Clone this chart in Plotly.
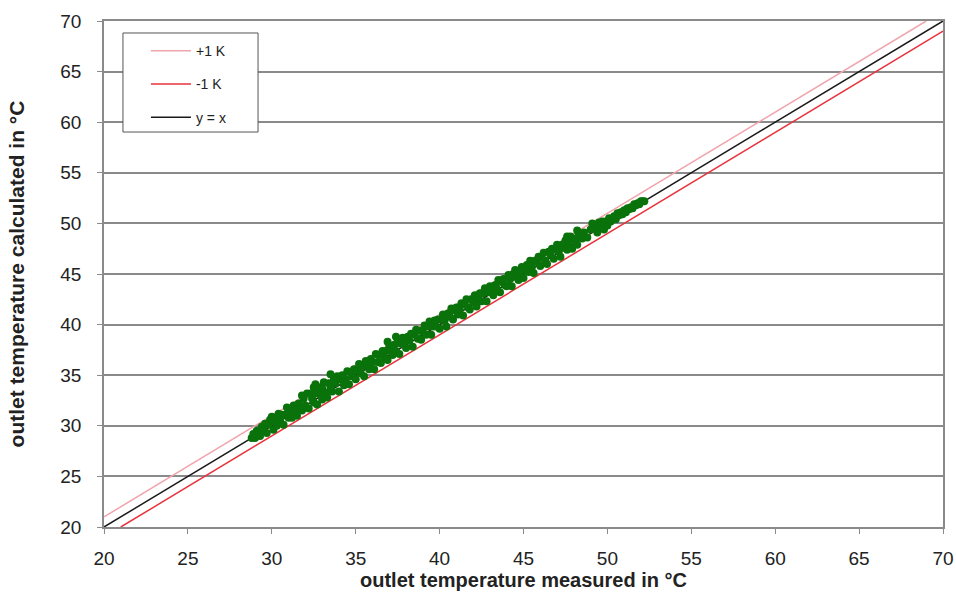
import plotly.graph_objects as go

# measured (x) and calculated (y) outlet temperatures
measured = [
    28.8, 28.9, 29.0, 29.1, 29.2, 29.3, 29.4, 29.5, 29.6, 29.7, 29.8, 29.9,
    30.0, 30.1, 30.1, 30.2, 30.3, 30.4, 30.5, 30.6, 30.7, 30.8, 30.9, 31.0,
    31.1, 31.2, 31.3, 31.4, 31.5, 31.6, 31.7, 31.8, 31.8, 31.9, 32.0, 32.1,
    32.2, 32.3, 32.4, 32.5, 32.5, 32.6, 32.7, 32.7, 32.8, 32.9, 33.0, 33.0,
    33.1, 33.2, 33.3, 33.4, 33.5, 33.5, 33.6, 33.7, 33.8, 33.9, 34.0, 34.1,
    34.2, 34.3, 34.4, 34.5, 34.6, 34.7, 34.8, 34.9, 35.0, 35.1, 35.2, 35.3,
    35.4, 35.5, 35.6, 35.7, 35.8, 35.9, 36.0, 36.1, 36.2, 36.3, 36.4, 36.5,
    36.6, 36.7, 36.8, 36.9, 36.9, 37.0, 37.1, 37.2, 37.3, 37.4, 37.4, 37.5,
    37.6, 37.7, 37.8, 37.9, 38.0, 38.1, 38.2, 38.3, 38.4, 38.5, 38.6, 38.7,
    38.8, 38.9, 39.0, 39.1, 39.2, 39.3, 39.4, 39.5, 39.6, 39.7, 39.8, 39.9,
    40.0, 40.1, 40.2, 40.3, 40.4, 40.5, 40.6, 40.7, 40.8, 40.9, 41.0, 41.1,
    41.2, 41.3, 41.4, 41.5, 41.6, 41.7, 41.8, 41.9, 42.0, 42.1, 42.2, 42.3,
    42.4, 42.5, 42.6, 42.7, 42.8, 42.9, 43.0, 43.1, 43.2, 43.3, 43.4, 43.5,
    43.6, 43.7, 43.8, 43.9, 44.0, 44.1, 44.2, 44.3, 44.4, 44.5, 44.6, 44.7,
    44.8, 44.9, 45.0, 45.1, 45.2, 45.3, 45.4, 45.5, 45.6, 45.7, 45.8, 45.9,
    46.0, 46.1, 46.2, 46.3, 46.4, 46.5, 46.6, 46.7, 46.8, 46.9, 47.0, 47.1,
    47.2, 47.3, 47.4, 47.5, 47.6, 47.6, 47.7, 47.8, 47.9, 48.0, 48.1, 48.2,
    48.2, 48.3, 48.5, 48.6, 48.8, 49.0, 49.1, 49.3, 49.4, 49.5, 49.6, 49.7,
    49.8, 49.9, 50.0, 50.1, 50.2, 50.4, 50.5, 50.6, 50.7, 50.8, 50.9, 51.0,
    51.1, 51.2, 51.3, 51.4, 51.5, 51.6, 51.7, 51.8, 51.9, 52.0, 52.1, 52.2,
]
calculated = [
    28.8, 29.2, 28.8, 29.5, 29.3, 29.0, 29.9, 29.5, 30.2, 29.3, 30.1, 30.6,
    30.9, 29.6, 30.7, 30.4, 30.0, 31.2, 30.6, 31.1, 30.1, 31.1, 31.8, 30.8,
    31.5, 30.8, 32.0, 31.5, 31.0, 32.2, 31.9, 33.0, 31.5, 32.7, 32.0, 33.2,
    31.7, 33.2, 32.7, 33.8, 32.3, 34.1, 33.2, 32.1, 33.8, 33.1, 33.7, 32.6,
    34.3, 33.3, 32.8, 34.2, 35.1, 33.8, 33.4, 34.6, 34.2, 34.9, 33.4, 34.6,
    35.0, 34.0, 34.6, 35.4, 34.1, 35.3, 34.9, 35.6, 34.6, 35.5, 36.1, 35.2,
    35.9, 34.9, 36.4, 35.9, 35.6, 36.6, 36.3, 35.6, 37.1, 36.3, 37.0, 36.2,
    37.4, 36.8, 37.4, 38.3, 36.5, 37.9, 37.4, 37.0, 38.0, 38.8, 37.4, 38.3,
    37.1, 38.1, 38.7, 38.0, 37.7, 38.8, 38.4, 39.1, 37.8, 39.0, 39.5, 38.6,
    39.4, 38.5, 39.3, 39.9, 39.0, 39.8, 40.3, 39.0, 39.8, 40.4, 39.8, 40.5,
    39.6, 40.5, 41.0, 40.4, 39.8, 41.1, 40.8, 41.6, 40.5, 41.4, 41.7, 41.0,
    41.5, 42.1, 40.9, 42.0, 42.5, 41.7, 41.5, 42.5, 42.2, 42.9, 41.8, 42.7,
    43.1, 42.3, 43.1, 43.6, 42.3, 43.2, 43.8, 43.2, 42.9, 43.9, 43.6, 44.4,
    43.2, 44.2, 44.5, 43.9, 43.8, 44.9, 44.5, 43.8, 45.0, 45.4, 44.7, 44.4,
    45.3, 45.7, 44.6, 45.4, 45.9, 45.2, 46.3, 45.7, 45.1, 46.3, 46.2, 46.7,
    45.8, 46.6, 47.1, 46.3, 46.0, 47.2, 46.9, 47.5, 46.5, 47.4, 47.9, 47.2,
    46.7, 47.9, 47.6, 48.3, 48.7, 47.4, 48.1, 48.7, 47.5, 48.5, 48.3, 49.3,
    47.9, 48.9, 48.5, 49.1, 48.6, 49.4, 50.0, 49.6, 49.1, 50.1, 49.7, 50.2,
    49.4, 50.2, 49.8, 50.5, 50.2, 50.7, 50.4, 51.0, 50.8, 51.1, 50.9, 51.3,
    51.1, 51.5, 51.4, 51.6, 51.5, 51.9, 51.8, 52.0, 51.9, 52.2, 52.2, 52.2,
]

# reference lines
line_x = [20, 70]
plus_1k_x = [20, 69]
plus_1k_y = [21, 70]
minus_1k_x = [21, 70]
minus_1k_y = [20, 69]
identity_y = [20, 70]

ticks = [20, 25, 30, 35, 40, 45, 50, 55, 60, 65, 70]

fig = go.Figure()
fig.add_trace(go.Scatter(x=plus_1k_x, y=plus_1k_y, mode="lines", name="+1 K",
                         legendgroup="a",
                         line=dict(color="#f0a4ac", width=1.5)))
fig.add_trace(go.Scatter(x=minus_1k_x, y=minus_1k_y, mode="lines", name="-1 K",
                         legendgroup="b",
                         line=dict(color="#e8323c", width=1.5)))
fig.add_trace(go.Scatter(x=line_x, y=identity_y, mode="lines", name="y = x",
                         legendgroup="c",
                         line=dict(color="#1a1a1a", width=1.5)))
fig.add_trace(go.Scatter(x=measured, y=calculated, mode="markers", showlegend=False,
                         marker=dict(color="#0a720a", size=8, line=dict(width=0))))

# legend frame (white box with border, as in the original)
fig.add_shape(type="rect", xref="paper", yref="paper",
              x0=0.0226, x1=0.1836, y0=0.7806, y1=0.9763,
              line=dict(color="#555555", width=1), fillcolor="white",
              layer="above")

font_family = "Arial, Liberation Sans, sans-serif"
fig.update_layout(
    width=956, height=604,
    margin=dict(l=104, r=13, t=21, b=77),
    paper_bgcolor="white", plot_bgcolor="white",
    font=dict(family=font_family, size=19, color="#222222"),
    showlegend=True,
    legend=dict(x=0.050, y=0.972, xanchor="left", yanchor="top",
                bgcolor="rgba(0,0,0,0)", borderwidth=0,
                font=dict(size=14, color="#222222"),
                traceorder="grouped", tracegroupgap=12,
                itemwidth=40),
    xaxis=dict(range=[20, 70], tickvals=ticks, showgrid=False, zeroline=False,
               showline=True, linecolor="#8a8a8a", linewidth=1.5, mirror=True,
               ticks="outside", ticklen=5, tickcolor="#8a8a8a",
               ticklabelstandoff=8, automargin=False,
               title=dict(text="<b>outlet temperature measured in °C</b>",
                          font=dict(size=20), standoff=2)),
    yaxis=dict(range=[20, 70], tickvals=ticks, showgrid=True, gridcolor="#8a8a8a",
               gridwidth=2, zeroline=False,
               showline=True, linecolor="#8a8a8a", linewidth=1.5, mirror=True,
               ticks="outside", ticklen=5, tickcolor="#8a8a8a",
               ticklabelstandoff=12, automargin=False,
               title=dict(text="<b>outlet temperature calculated in °C</b>",
                          font=dict(size=21), standoff=30)),
)

fig.write_html("out.html", config={"displayModeBar": False},
               post_script="document.body.style.margin='0';document.body.style.padding='0';")
